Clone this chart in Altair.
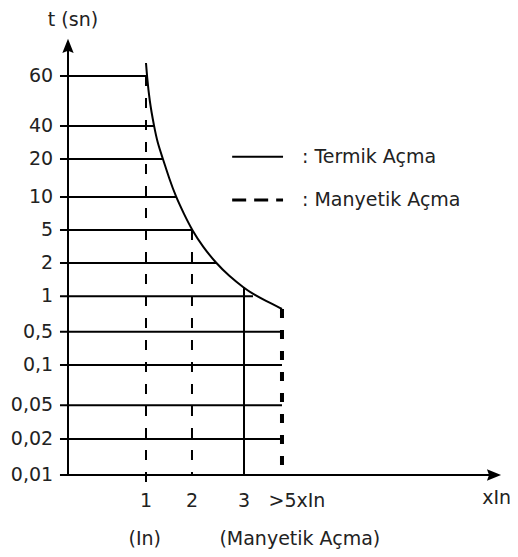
import altair as alt
import pandas as pd

# y axis (schematic, not to scale): tick labels and their levels
t_labels = ["60", "40", "20", "10", "5", "2", "1", "0,5", "0,1", "0,05", "0,02", "0,01"]
t_levels = [11.4, 9.97, 9.03, 7.94, 7.0, 6.06, 5.11, 4.09, 3.14, 1.99, 1.03, 0.0]
t_line_end = [1.646, 1.792, 1.979, 2.25, 2.583, 3.083, 3.854, 4.458, 4.458, 4.458, 4.458, 4.458]

# x axis (multiples of In, schematic)
x_labels = ["1", "2", "3", ">5xIn"]
x_label_pos = [1.625, 2.583, 3.667, 4.77]

# thermal trip curve
curve_x = [1.625, 1.646, 1.698, 1.792, 1.865, 1.979, 2.104, 2.25, 2.417, 2.583,
           2.813, 3.083, 3.354, 3.667, 3.854, 4.125, 4.458]
curve_y = [11.771, 11.40, 10.686, 9.971, 9.486, 9.029, 8.486, 7.943, 7.457, 7.0,
           6.514, 6.057, 5.686, 5.343, 5.171, 4.971, 4.743]

# vertical guides
dash_x = [1.625, 2.583]
dash_top = [11.4, 7.0]
dash_bot = [-0.23, 0.0]
solid_x = [3.667]
solid_top = [5.343]
mag_x = [4.458]
mag_top = [4.743]

legend_labels = [": Termik Açma", ": Manyetik Açma"]

FONT = "DejaVu Sans"
FS = 19
X = dict(scale=alt.Scale(domain=[-1.25, 9.2083], nice=False, zero=False), axis=None)
Y = dict(scale=alt.Scale(domain=[-2.114, 13.343], nice=False, zero=False), axis=None)


def xq(f):
    return alt.X(f, type="quantitative", **X)


def yq(f):
    return alt.Y(f, type="quantitative", **Y)


hl = pd.DataFrame({"lab": t_labels, "y": t_levels, "x1": t_line_end})
hl["x0"] = -0.167
hl["lx"] = -0.31
hlines = alt.Chart(hl).mark_rule(color="black", strokeWidth=2).encode(
    x=xq("x0"), x2="x1", y=yq("y"))
ylabels = alt.Chart(hl).mark_text(align="right", baseline="middle", font=FONT,
                                  fontSize=FS, color="#222").encode(
    x=xq("lx"), y=yq("y"), text="lab")

axes_df = pd.DataFrame({"x": [0.0, -0.167], "x2": [0.0, 8.9], "y": [0.0, 0.0], "y2": [12.2, 0.0]})
axes = alt.Chart(axes_df).mark_rule(color="black", strokeWidth=2).encode(
    x=xq("x"), x2="x2", y=yq("y"), y2="y2")

arr_up = alt.Chart(pd.DataFrame({"x": [0.0], "y": [12.26]})).mark_point(
    shape="M0,-1L0.8,1L0,0.7L-0.8,1Z", filled=True, size=200, color="black", opacity=1).encode(
    x=xq("x"), y=yq("y"))
arr_right = alt.Chart(pd.DataFrame({"x": [8.875], "y": [0.0]})).mark_point(
    shape="M1,0L-1,0.8L-0.7,0L-1,-0.8Z", filled=True, size=200, color="black", opacity=1).encode(
    x=xq("x"), y=yq("y"))

curve = alt.Chart(pd.DataFrame({"x": curve_x, "y": curve_y})).mark_line(
    color="black", strokeWidth=2, interpolate="basis").encode(
    x=xq("x"), y=yq("y"), order="x:Q")

dashed = alt.Chart(pd.DataFrame({"x": dash_x, "y": dash_top, "y2": dash_bot})).mark_rule(
    color="black", strokeWidth=2, strokeDash=[10, 12]).encode(x=xq("x"), y=yq("y"), y2="y2")
solid = alt.Chart(pd.DataFrame({"x": solid_x, "y": solid_top})).mark_rule(
    color="black", strokeWidth=2).encode(x=xq("x"), y=yq("y"), y2=alt.datum(0))
mag = alt.Chart(pd.DataFrame({"x": mag_x, "y": mag_top})).mark_rule(
    color="black", strokeWidth=4, strokeDash=[9, 12]).encode(x=xq("x"), y=yq("y"), y2=alt.datum(0.2))

xl = pd.DataFrame({"lab": x_labels, "x": x_label_pos})
xl["y"] = -0.74
xlabels = alt.Chart(xl).mark_text(baseline="middle", font=FONT, fontSize=FS, color="#222").encode(
    x=xq("x"), y=yq("y"), text="lab")

misc = pd.DataFrame({"lab": ["t (sn)", "xIn", "(In)", "(Manyetik Açma)"],
                     "x": [0.104, 8.93, 1.6, 4.83],
                     "y": [13.0, -0.66, -1.83, -1.83]})
misc_text = alt.Chart(misc).mark_text(baseline="middle", font=FONT, fontSize=FS, color="#222").encode(
    x=xq("x"), y=yq("y"), text="lab")

leg = pd.DataFrame({"lab": legend_labels, "y": [9.09, 7.86]})
leg["x0"] = 3.42
leg["x1"] = 4.48
leg["tx"] = 4.875
leg_solid = alt.Chart(leg.iloc[[0]]).mark_rule(color="black", strokeWidth=2).encode(
    x=xq("x0"), x2="x1", y=yq("y"))
leg_dash = alt.Chart(leg.iloc[[1]]).mark_rule(color="black", strokeWidth=3, strokeDash=[14, 8]).encode(
    x=xq("x0"), x2="x1", y=yq("y"))
leg_text = alt.Chart(leg).mark_text(align="left", baseline="middle", font=FONT, fontSize=FS,
                                    color="#222").encode(x=xq("tx"), y=yq("y"), text="lab")

chart = alt.layer(
    hlines, dashed, solid, mag, curve, axes, arr_up, arr_right,
    ylabels, xlabels, misc_text, leg_solid, leg_dash, leg_text
).properties(
    width=502, height=541, padding=0, autosize=alt.AutoSizeParams(type="none"),
    background="white"
).configure_view(strokeWidth=0)

chart.save("out.html", embed_options={"renderer": "svg", "actions": False})
